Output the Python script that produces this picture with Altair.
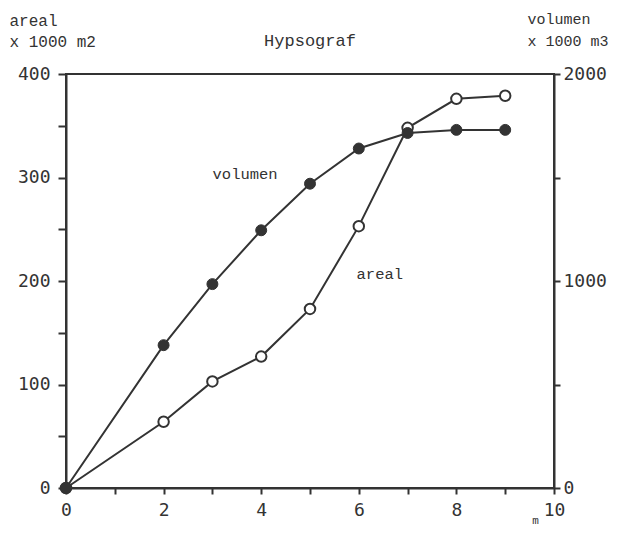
import altair as alt
import pandas as pd

depth = [0, 2, 3, 4, 5, 6, 7, 8, 9]
areal = [0, 64, 103, 127, 173, 253, 348, 376, 379]
volumen = [0, 690, 985, 1245, 1470, 1640, 1715, 1730, 1730]

label_text = ["volumen", "areal"]
label_depth = [3.67, 6.43]
label_areal = [303, 207]

df = pd.DataFrame({"depth": depth, "areal": areal, "volumen": volumen})
labels_df = pd.DataFrame({"txt": label_text, "depth": label_depth, "areal": label_areal})

INK = "#333333"
MONO = "DejaVu Sans Mono"
TYPE = "Liberation Mono"

x_axis = alt.Axis(
    values=list(range(0, 11)),
    labelExpr="datum.value % 2 == 0 ? datum.label : ''",
    labelFlush=False, labelOverlap=False,
    grid=False, domainColor=INK, domainWidth=2, tickColor=INK, tickWidth=2,
    tickSize=6, labelPadding=7, labelFont=MONO, labelFontSize=18, labelColor=INK,
    title="m", titleFont=TYPE, titleFontSize=11, titleFontWeight="normal",
    titleX=469, titleY=35, titleAlign="center", titleBaseline="alphabetic",
    titleColor=INK,
)
x_enc = alt.X("depth:Q", scale=alt.Scale(domain=[0, 10], nice=False), axis=x_axis)

left_axis = alt.Axis(
    values=list(range(0, 401, 50)),
    labelExpr="datum.value % 100 == 0 ? datum.label : ''",
    labelFlush=False, labelOverlap=False,
    grid=False, domainColor=INK, domainWidth=2, tickColor=INK, tickWidth=2,
    tickSize=8, labelPadding=8, labelFont=MONO, labelFontSize=18, labelColor=INK,
    title=["areal", "x 1000 m2"], titleAngle=0, titleAlign="left",
    titleBaseline="alphabetic", titleX=-57, titleY=-49, titleLineHeight=21,
    titleFont=TYPE, titleFontSize=16, titleFontWeight="normal", titleColor=INK,
)
right_axis = alt.Axis(
    orient="right", format="d",
    values=list(range(0, 2001, 500)),
    labelExpr="datum.value % 1000 == 0 ? datum.label : ''",
    labelFlush=False, labelOverlap=False,
    grid=False, domainColor=INK, domainWidth=2, tickColor=INK, tickWidth=2,
    tickSize=6, labelPadding=3, labelFont=MONO, labelFontSize=18, labelColor=INK,
    title=["volumen", "x 1000 m3"], titleAngle=0, titleAlign="left",
    titleBaseline="alphabetic", titleX=-27, titleY=-51, titleLineHeight=22,
    titleFont=TYPE, titleFontSize=15, titleFontWeight="normal", titleColor=INK,
)

y_left = alt.Y("areal:Q", scale=alt.Scale(domain=[0, 400], nice=False), axis=left_axis)
y_right = alt.Y("volumen:Q", scale=alt.Scale(domain=[0, 2000], nice=False), axis=right_axis)

base = alt.Chart(df)

areal_line = base.mark_line(color=INK, strokeWidth=2).encode(x=x_enc, y=y_left)
areal_pts = base.mark_point(shape="circle", filled=True, fill="white", stroke=INK,
                            strokeWidth=2, size=110, opacity=1).encode(x=x_enc, y=y_left)
ann = alt.Chart(labels_df).mark_text(font=TYPE, fontSize=15.5, color=INK).encode(
    x=x_enc, y=y_left, text="txt:N",
)
title_txt = alt.Chart(pd.DataFrame({"t": ["Hypsograf"]})).mark_text(
    font=TYPE, fontSize=17, color=INK, baseline="alphabetic"
).encode(x=alt.value(244), y=alt.value(-28), text="t:N")

left = alt.layer(areal_line, areal_pts, ann, title_txt)

vol_line = base.mark_line(color=INK, strokeWidth=2).encode(x=x_enc, y=y_right)
vol_pts = base.mark_point(shape="circle", filled=True, fill=INK, stroke=INK,
                          strokeWidth=1, size=120, opacity=1).encode(x=x_enc, y=y_right)
right = alt.layer(vol_line, vol_pts)

chart = alt.layer(left, right).resolve_scale(y="independent").properties(
    width=488, height=414,
    autosize=alt.AutoSizeParams(type="none"),
    padding={"left": 58, "top": 66, "right": 59, "bottom": 40},
    background="white",
).configure_view(stroke=INK, strokeWidth=2)

chart.save("out.html", embed_options={"renderer": "svg", "actions": False})
